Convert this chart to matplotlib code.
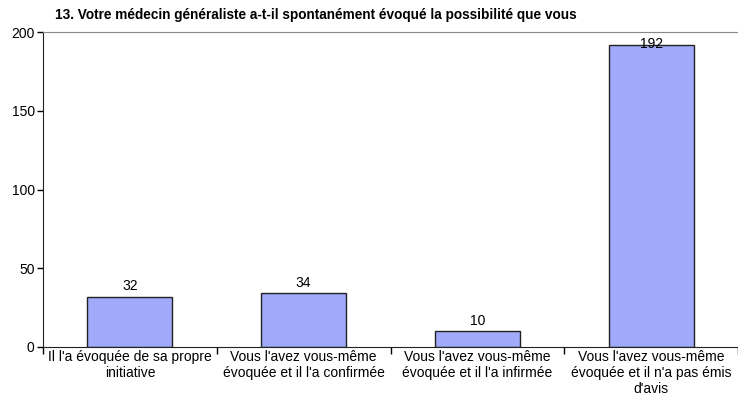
import numpy as np
import matplotlib
matplotlib.use("Agg")
import matplotlib.pyplot as plt

# données
categories = ["Il l'a évoquée de sa propre\ninitiative",
              "Vous l'avez vous-même\névoquée et il l'a confirmée",
              "Vous l'avez vous-même\névoquée et il l'a infirmée",
              "Vous l'avez vous-même\névoquée et il n'a pas émis\nd'avis"]
values = [32, 34, 10, 192]
yticks = [0, 50, 100, 150, 200]
title = "13. Votre médecin généraliste a-t-il spontanément évoqué la possibilité que vous"

plt.rcParams['font.family'] = ['Liberation Sans', 'DejaVu Sans']

fig = plt.figure(figsize=(7.38, 4.03), dpi=100)
ax = fig.add_axes([43/738, 56/403, 695/738, 315/403])

x = np.arange(len(values))
ax.bar(x, values, width=0.49, color='#A0AAFA', edgecolor='#222222', linewidth=1)

ymax = 200
for xi, v in zip(x, values):
    # le libellé reste dans la zone de tracé
    ax.text(xi, min(v + 2, ymax - 12), str(v), ha='center', va='bottom', fontsize=10)

ax.set_xlim(-0.5, len(values) - 0.5)
ax.set_ylim(0, ymax)
ax.set_yticks(yticks)
ax.tick_params(axis='y', labelsize=10, length=4, width=1, direction='out', pad=2)

ax.set_xticks(x)
ax.set_xticklabels(categories, fontsize=10, linespacing=1.2)
ax.tick_params(axis='x', length=0, pad=2)
ax.set_xticks(np.arange(len(values) + 1) - 0.5, minor=True)
ax.tick_params(axis='x', which='minor', length=5, width=1, direction='out')

for s in ['left', 'bottom']:
    ax.spines[s].set_color('#222222')
ax.spines['top'].set_color('#888888')
ax.spines['right'].set_visible(False)

fig.text(55/738, 1 - 15/403, title, fontsize=9.8, fontweight='bold', ha='left', va='center')

fig.savefig('out.png', dpi=100)
